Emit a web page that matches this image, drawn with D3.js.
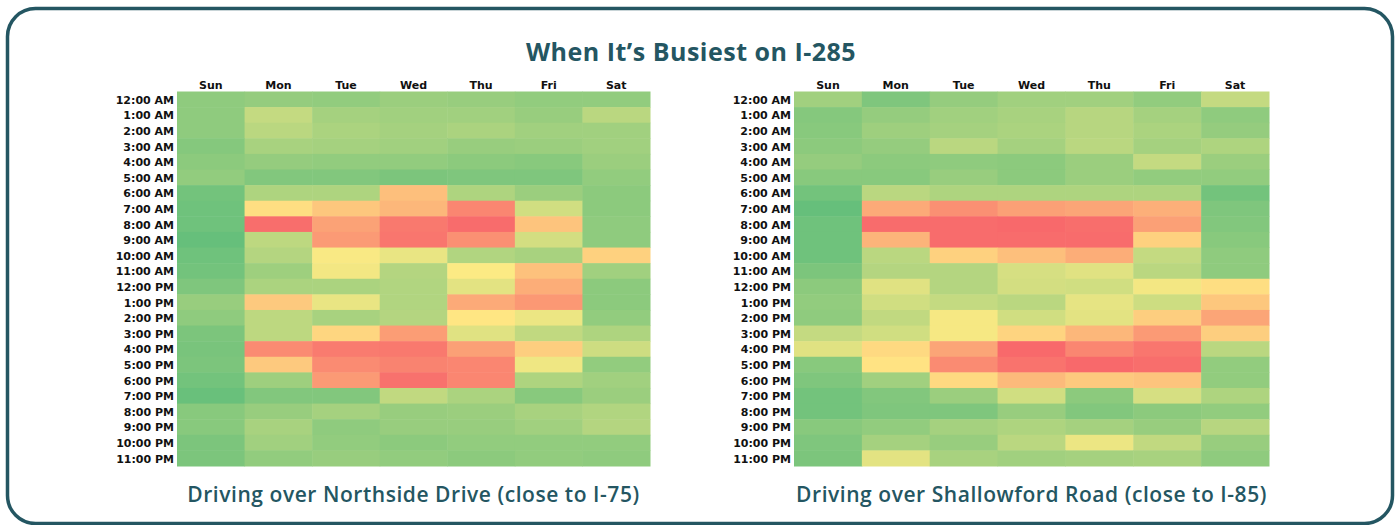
<!DOCTYPE html>
<html>
<head>
<meta charset="utf-8">
<script src="https://cdn.jsdelivr.net/npm/d3@7"></script>
<style>
  body { margin: 0; background: #fff; }
  svg { display: block; }
</style>
</head>
<body>
<svg id="chart" width="1400" height="525"></svg>
<script>
//
// Data
//
const days = ['Sun', 'Mon', 'Tue', 'Wed', 'Thu', 'Fri', 'Sat'];
const hours = ['12:00 AM', '1:00 AM', '2:00 AM', '3:00 AM', '4:00 AM', '5:00 AM',
  '6:00 AM', '7:00 AM', '8:00 AM', '9:00 AM', '10:00 AM', '11:00 AM',
  '12:00 PM', '1:00 PM', '2:00 PM', '3:00 PM', '4:00 PM', '5:00 PM',
  '6:00 PM', '7:00 PM', '8:00 PM', '9:00 PM', '10:00 PM', '11:00 PM'];

// busyness index, one row per hour, Sun..Sat
const northside = [
  [14, 16, 15, 18, 17, 15, 15],
  [14, 31, 21, 20, 20, 17, 28],
  [14, 28, 23, 21, 23, 20, 20],
  [11, 22, 21, 20, 17, 18, 20],
  [13, 16, 15, 15, 13, 12, 18],
  [15, 10, 10, 8, 9, 9, 15],
  [5, 24, 24, 67, 24, 18, 13],
  [4, 55, 64, 70, 89, 35, 13],
  [4, 98, 78, 94, 99, 65, 14],
  [1, 29, 81, 95, 85, 36, 14],
  [4, 26, 48, 43, 25, 22, 60],
  [5, 19, 46, 26, 49, 66, 20],
  [9, 23, 23, 25, 41, 74, 13],
  [17, 63, 43, 25, 75, 82, 13],
  [14, 29, 22, 26, 52, 44, 15],
  [8, 29, 58, 80, 40, 30, 24],
  [7, 87, 93, 94, 79, 61, 34],
  [8, 63, 87, 90, 89, 45, 15],
  [5, 19, 81, 97, 89, 24, 20],
  [2, 10, 10, 30, 23, 12, 18],
  [12, 17, 21, 17, 18, 22, 25],
  [12, 22, 14, 17, 17, 20, 26],
  [8, 20, 15, 13, 15, 15, 15],
  [8, 15, 17, 15, 13, 15, 14]
];

const shallowford = [
  [20, 9, 16, 20, 20, 15, 31],
  [11, 16, 20, 22, 27, 21, 14],
  [12, 19, 21, 23, 27, 23, 16],
  [13, 16, 28, 21, 28, 21, 24],
  [16, 13, 14, 13, 18, 31, 18],
  [12, 12, 17, 13, 18, 15, 15],
  [5, 28, 24, 24, 24, 24, 5],
  [1, 75, 85, 79, 77, 73, 9],
  [4, 99, 99, 100, 98, 79, 10],
  [4, 71, 99, 99, 99, 60, 12],
  [4, 28, 60, 67, 74, 31, 14],
  [8, 26, 26, 37, 40, 28, 14],
  [13, 40, 26, 36, 35, 46, 55],
  [15, 35, 31, 28, 42, 34, 64],
  [14, 30, 47, 35, 41, 61, 77],
  [31, 35, 47, 59, 70, 81, 61],
  [40, 57, 77, 100, 89, 95, 28],
  [12, 53, 87, 96, 100, 98, 15],
  [9, 20, 57, 69, 63, 65, 15],
  [5, 10, 18, 35, 13, 37, 24],
  [5, 9, 9, 17, 10, 13, 15],
  [12, 15, 21, 24, 21, 17, 27],
  [9, 21, 17, 28, 44, 30, 17],
  [8, 41, 22, 20, 21, 22, 14]
];

const titleText = 'When It\u2019s Busiest on I-285';
const captions = ['Driving over Northside Drive (close to I-75)',
  'Driving over Shallowford Road (close to I-85)'];

//
// Configuration
//
const teal = '#245662';
const gridTop = 91.5;
const gridBottom = 466;
const panels = [
  {data: northside, x0: 177, x1: 650, caption: captions[0]},
  {data: shallowford, x0: 794, x1: 1269, caption: captions[1]}
];

const color = d3.scaleLinear()
    .domain([0, 50, 100])
    .range(['#63BE7B', '#FFEB84', '#F8696B']);

const svg = d3.select('#chart');

// frame
svg.append('rect')
    .attr('x', 7.5).attr('y', 8.5)
    .attr('width', 1385).attr('height', 515)
    .attr('rx', 28).attr('ry', 28)
    .attr('fill', 'none')
    .attr('stroke', teal)
    .attr('stroke-width', 3.5);

svg.append('text')
    .attr('x', 691).attr('y', 61)
    .attr('text-anchor', 'middle')
    .attr('fill', teal)
    .style('font', '700 25px "Open Sans", sans-serif')
    .style('letter-spacing', '0.5px')
    .text(titleText);

const y = d3.scaleBand().domain(hours).range([gridTop, gridBottom]);

panels.forEach(p => {
  const x = d3.scaleBand().domain(days).range([p.x0, p.x1]);
  const g = svg.append('g');

  const cells = [];
  p.data.forEach((row, i) => row.forEach((v, j) => {
    cells.push({hour: hours[i], day: days[j], value: v});
  }));

  g.selectAll('rect.cell')
      .data(cells)
      .join('rect')
      .attr('class', 'cell')
      .attr('x', d => x(d.day))
      .attr('y', d => y(d.hour))
      .attr('width', x.bandwidth() + 0.5)
      .attr('height', y.bandwidth() + 0.5)
      .attr('fill', d => color(d.value));

  const xAxis = g.append('g')
      .attr('transform', `translate(0,${gridTop})`)
      .call(d3.axisTop(x).tickSize(0).tickPadding(3));
  const yAxis = g.append('g')
      .attr('transform', `translate(${p.x0},0)`)
      .call(d3.axisLeft(y).tickSize(0).tickPadding(3));

  [xAxis, yAxis].forEach(ax => {
    ax.select('.domain').remove();
    ax.selectAll('text')
        .attr('fill', '#111')
        .style('font', 'bold 11px "DejaVu Sans", sans-serif');
  });
  yAxis.selectAll('text').attr('dy', '0.4em');

  g.append('text')
      .attr('x', (p.x0 + p.x1) / 2).attr('y', 502)
      .attr('text-anchor', 'middle')
      .attr('fill', teal)
      .style('font', '600 21px "Open Sans", sans-serif')
      .style('letter-spacing', '0.55px')
      .text(p.caption);
});
</script>
</body>
</html>
